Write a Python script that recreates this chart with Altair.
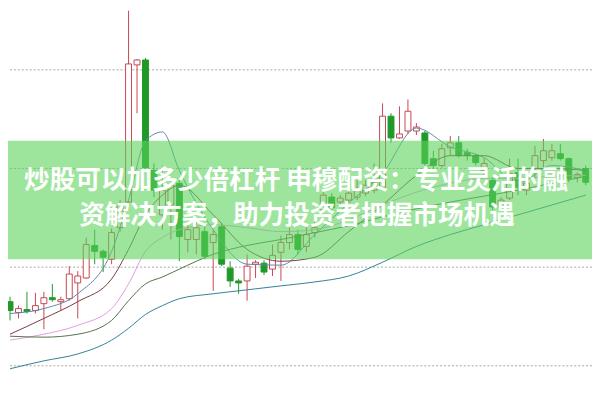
import altair as alt
import pandas as pd

# ---- candles (price units; grid lines at 14, 13, 12, 11) ----
opens = [11.65, 11.54, 11.57, 11.56, 11.63, 11.69, 11.65, 11.68, 11.84, 11.89,
         12.22, 12.16, 12.08, 12.40, 12.66, 14.05, 14.10, 12.98, 12.53, 12.63,
         12.85, 12.28, 12.28, 12.36, 12.25, 12.41, 11.99, 11.86, 11.86, 12.03,
         12.04, 11.98, 12.15, 12.25, 12.33, 12.21, 12.35, 12.58, 12.71, 12.66,
         12.68, 12.71, 12.75, 12.78, 12.81, 13.53, 13.31, 13.38, 13.38, 13.36,
         13.10, 13.03, 13.21, 13.26, 13.16, 13.13, 12.98, 12.88, 12.61, 12.70,
         12.96, 12.78, 13.00, 13.08, 13.11, 13.15, 13.10, 12.91, 13.00]
highs = [11.70, 11.61, 11.75, 11.74, 11.75, 11.83, 11.70, 12.01, 11.96, 12.30,
         12.38, 12.18, 12.39, 12.68, 14.75, 14.11, 14.12, 13.05, 13.03, 12.88,
         12.88, 12.45, 12.46, 12.45, 12.38, 12.45, 12.06, 11.88, 12.13, 12.07,
         12.07, 12.23, 12.32, 12.40, 12.38, 12.41, 12.48, 12.76, 12.75, 12.73,
         12.78, 12.88, 12.88, 13.05, 13.66, 13.56, 13.63, 13.70, 13.46, 13.38,
         13.18, 13.25, 13.33, 13.33, 13.20, 13.15, 13.10, 12.91, 12.71, 13.10,
         13.10, 12.90, 13.23, 13.30, 13.25, 13.25, 13.11, 12.96, 13.03]
lows = [11.46, 11.48, 11.53, 11.53, 11.37, 11.65, 11.56, 11.66, 11.48, 11.88,
        12.03, 11.95, 12.03, 12.36, 12.58, 13.56, 12.98, 12.71, 12.38, 12.28,
        12.06, 12.15, 12.13, 12.08, 11.76, 12.01, 11.80, 11.73, 11.66, 11.89,
        11.92, 11.91, 11.86, 12.18, 12.13, 12.15, 12.30, 12.55, 12.56, 12.61,
        12.65, 12.68, 12.72, 12.75, 12.78, 13.26, 13.30, 13.35, 13.34, 13.03,
        13.00, 13.01, 13.13, 13.11, 13.08, 13.03, 12.93, 12.58, 12.60, 12.68,
        12.73, 12.73, 12.91, 13.01, 13.08, 13.08, 12.86, 12.86, 12.83]
closes = [11.56, 11.58, 11.55, 11.61, 11.69, 11.67, 11.67, 11.93, 11.91, 12.23,
          12.16, 12.10, 12.35, 12.63, 14.06, 14.10, 13.01, 12.78, 12.78, 12.83,
          12.31, 12.38, 12.40, 12.11, 12.33, 12.03, 11.86, 11.84, 12.01, 12.05,
          11.95, 12.12, 12.25, 12.33, 12.18, 12.33, 12.40, 12.73, 12.60, 12.70,
          12.75, 12.80, 12.83, 12.86, 13.53, 13.31, 13.35, 13.58, 13.42, 13.05,
          13.03, 13.20, 13.26, 13.13, 13.13, 13.06, 13.05, 12.61, 12.68, 12.95,
          12.81, 12.85, 13.13, 13.18, 13.18, 13.10, 12.90, 12.94, 12.86]

# ---- moving averages, read at selected candle positions ----
ma_idx = [0, 4, 8, 12, 14, 16, 18, 20, 24, 28, 32, 36, 40, 44, 48, 52, 56, 60, 64, 68]
ma5 = [11.53, 11.58, 11.73, 12.16, 12.68, 13.28, 13.37, 12.98, 12.38, 12.03,
       12.02, 12.33, 12.65, 12.95, 13.41, 13.22, 13.11, 12.85, 13.03, 12.98]
ma10 = [11.32, 11.48, 11.65, 11.88, 12.18, 12.53, 12.73, 12.83, 12.53, 12.18,
        12.06, 12.10, 12.36, 12.63, 12.93, 13.13, 13.13, 13.00, 13.00, 12.98]
ma20 = [11.26, 11.32, 11.41, 11.58, 11.83, 12.16, 12.30, 12.38, 12.43, 12.40,
        12.36, 12.38, 12.48, 12.63, 12.76, 12.85, 12.90, 12.90, 12.92, 12.93]
ma30 = [11.30, 11.29, 11.32, 11.46, 11.66, 11.83, 11.90, 11.98, 12.13, 12.22,
        12.28, 12.35, 12.42, 12.51, 12.59, 12.66, 12.72, 12.78, 12.85, 12.92]
ma60 = [10.97, 11.05, 11.12, 11.26, 11.38, 11.52, 11.61, 11.68, 11.73, 11.77,
        11.81, 11.85, 11.91, 12.05, 12.21, 12.33, 12.43, 12.53, 12.63, 12.73]
ma_names = ["MA5", "MA10", "MA20", "MA30", "MA60"]
ma_colors = ["#5f86a8", "#7a3848", "#e39be0", "#56704a", "#2f8196"]

grid_levels = [14, 13, 12, 11]
title_lines = ["炒股可以加多少倍杠杆 申穆配资：专业灵活的融",
               "资解决方案，助力投资者把握市场机遇"]

RED = "#c8464f"
GREEN = "#1f9a2a"

candles = pd.DataFrame({
    "idx": list(range(len(opens))),
    "open": opens, "high": highs, "low": lows, "close": closes,
})
candles["dir"] = ["up" if c >= o else "down" for o, c in zip(opens, closes)]

ma_rows = []
for name, vals in zip(ma_names, [ma5, ma10, ma20, ma30, ma60]):
    for i, v in zip(ma_idx, vals):
        ma_rows.append({"idx": i, "val": v, "ma": name})
ma_df = pd.DataFrame(ma_rows)

xs = alt.Scale(domain=[0.344, 68.156], nice=False, zero=False)
ys = alt.Scale(domain=[10.67, 14.60], nice=False, zero=False)
X = alt.X("idx:Q", scale=xs, axis=None)
dir_color = alt.Color("dir:N", scale=alt.Scale(domain=["up", "down"], range=[RED, GREEN]), legend=None)

grid = alt.Chart(pd.DataFrame({"lvl": grid_levels})).mark_rule(
    color="#a6a6a6", strokeDash=[2, 2], strokeWidth=1
).encode(y=alt.Y("lvl:Q", scale=ys, axis=None))

wicks = alt.Chart(candles).mark_rule(strokeWidth=1, clip=True).encode(
    x=X,
    y=alt.Y("low:Q", scale=ys, axis=None),
    y2="high:Q",
    color=dir_color,
)

bodies = alt.Chart(candles).mark_bar(size=6, strokeWidth=1, clip=True).encode(
    x=X,
    y=alt.Y("open:Q", scale=ys, axis=None),
    y2="close:Q",
    stroke=alt.Stroke("dir:N", scale=alt.Scale(domain=["up", "down"], range=[RED, GREEN]), legend=None),
    fill=alt.Fill("dir:N", scale=alt.Scale(domain=["up", "down"], range=["#ffffff", GREEN]), legend=None),
)

lines = alt.Chart(ma_df).mark_line(strokeWidth=1, clip=True, interpolate="monotone").encode(
    x=X,
    y=alt.Y("val:Q", scale=ys, axis=None),
    color=alt.Color("ma:N", scale=alt.Scale(domain=ma_names, range=ma_colors), legend=None),
    detail="ma:N",
)

banner = alt.Chart(pd.DataFrame({"a": [0]})).mark_rect(
    color="#5cd35c", opacity=0.6
).encode(x=alt.value(0), x2=alt.value(592), y=alt.value(132), y2=alt.value(252))

text1 = alt.Chart(pd.DataFrame({"t": [title_lines[0]]})).mark_text(
    font="Noto Sans CJK SC", fontSize=26, fontWeight="bold", color="white",
    align="center", baseline="middle"
).encode(text="t:N", x=alt.value(292), y=alt.value(173))

text2 = alt.Chart(pd.DataFrame({"t": [title_lines[1]]})).mark_text(
    font="Noto Sans CJK SC", fontSize=26, fontWeight="bold", color="white",
    align="center", baseline="middle"
).encode(text="t:N", x=alt.value(293), y=alt.value(208))

chart = alt.layer(grid, wicks, bodies, lines, banner, text1, text2).properties(
    width=592, height=393, padding=0, background="white",
    autosize=alt.AutoSizeParams(type="none")
).resolve_scale(color="independent").configure_view(strokeWidth=0)

chart.save("out.html", embed_options={"renderer": "svg", "actions": False})
